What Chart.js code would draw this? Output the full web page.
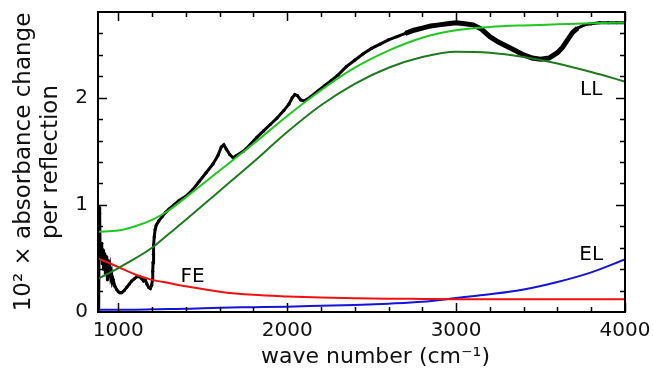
<!DOCTYPE html>
<html>
<head>
<meta charset="utf-8">
<title>Absorbance change per reflection</title>
<script src="https://cdn.jsdelivr.net/npm/chart.js@4.4.1/dist/chart.umd.min.js"></script>
<style>
  html, body { margin: 0; padding: 0; background: #fff; }
  canvas { display: block; }
</style>
</head>
<body>
<canvas id="spectrum" width="653" height="371"></canvas>
<script>
// measured spectrum (wave number in cm-1, 10^2 x absorbance change)
const measWave = [
  884, 887, 890, 892, 895, 898, 900, 903, 906, 910, 913, 916, 920, 924, 928, 932, 936, 940, 945, 950,
  955, 960, 965, 970, 980, 990, 1000, 1010, 1020, 1035, 1050, 1065, 1080, 1095, 1110, 1125, 1140, 1150,
  1160, 1170, 1180, 1190, 1198, 1202, 1204, 1206, 1208, 1210, 1213, 1218, 1225, 1240, 1260, 1280, 1300,
  1330, 1360, 1400, 1440, 1480, 1520, 1560, 1590, 1610, 1625, 1640, 1660, 1680, 1700, 1740, 1780, 1820,
  1860, 1900, 1940, 1980, 2010, 2030, 2045, 2060, 2080, 2100, 2140, 2180, 2220, 2260, 2300, 2350, 2400,
  2450, 2500, 2550, 2600, 2650, 2700, 2750, 2800, 2850, 2900, 2950, 3000, 3050, 3100, 3150, 3200, 3250,
  3300, 3350, 3400, 3450, 3500, 3550, 3600, 3630, 3660, 3690, 3720, 3760, 3800, 3850, 3900, 3950, 4000
];
const measAbs = [
  0.00, 0.98, 0.92, 0.62, 0.55, 0.60, 0.50, 0.64, 0.45, 0.58, 0.40, 0.55, 0.47, 0.36, 0.52, 0.42, 0.30, 0.48, 0.38, 0.42,
  0.33, 0.36, 0.28, 0.30, 0.24, 0.21, 0.19, 0.18, 0.18, 0.20, 0.23, 0.26, 0.29, 0.31, 0.33, 0.33, 0.31, 0.29,
  0.30, 0.26, 0.23, 0.22, 0.25, 0.30, 0.38, 0.46, 0.54, 0.62, 0.70, 0.77, 0.81, 0.85, 0.89, 0.93, 0.96,
  1.00, 1.04, 1.08, 1.14, 1.22, 1.30, 1.38, 1.46, 1.54, 1.56, 1.52, 1.47, 1.44, 1.46, 1.50, 1.56, 1.63,
  1.69, 1.75, 1.81, 1.88, 1.94, 2.00, 2.03, 2.02, 1.98, 1.97, 2.01, 2.06, 2.11, 2.16, 2.21, 2.29, 2.35,
  2.41, 2.46, 2.50, 2.54, 2.57, 2.60, 2.63, 2.65, 2.67, 2.68, 2.69, 2.70, 2.69, 2.68, 2.64, 2.57, 2.52,
  2.48, 2.44, 2.40, 2.37, 2.36, 2.37, 2.42, 2.47, 2.54, 2.61, 2.65, 2.68, 2.69, 2.70, 2.70, 2.70, 2.70
];

// fitted contributions, all on the same wave number grid
const fitWave = [880, 1000, 1100, 1200, 1300, 1400, 1600, 1800, 2000, 2200, 2400, 2600, 2800, 3000, 3200, 3400, 3600, 3800, 4000];
const fitTotal = [0.75, 0.76, 0.80, 0.86, 0.95, 1.07, 1.32, 1.57, 1.83, 2.07, 2.28, 2.44, 2.56, 2.63, 2.66, 2.675, 2.685, 2.695, 2.70];
const fitLL = [0.31, 0.41, 0.50, 0.60, 0.73, 0.86, 1.13, 1.40, 1.68, 1.93, 2.13, 2.28, 2.38, 2.43, 2.42, 2.38, 2.32, 2.24, 2.15];
const fitFE = [0.50, 0.42, 0.35, 0.30, 0.27, 0.24, 0.19, 0.16, 0.145, 0.135, 0.128, 0.124, 0.122, 0.12, 0.12, 0.12, 0.12, 0.12, 0.12];
const fitEL = [0.02, 0.02, 0.022, 0.025, 0.028, 0.03, 0.04, 0.045, 0.05, 0.058, 0.066, 0.078, 0.095, 0.13, 0.165, 0.21, 0.28, 0.37, 0.49];

const xMajor = [1000, 2000, 3000, 4000];
const yMajor = [0, 1, 2];

// curve labels: text, wave number, value
const curveLabels = [
  ['FE', 1440, 0.33],
  ['LL', 3800, 2.07],
  ['EL', 3800, 0.53]
];

const xTitle = 'wave number (cm\u207B\u00B9)';
const yTitle = ['10\u00B2 \u00D7 absorbance change', 'per reflection'];

function pairs(xs, ys) {
  return xs.map((v, i) => ({ x: v, y: ys[i] }));
}

function fitSet(label, ys, color, order) {
  return {
    label: label,
    data: pairs(fitWave, ys),
    showLine: true,
    borderColor: color,
    borderWidth: 2,
    pointRadius: 0,
    cubicInterpolationMode: 'monotone',
    order: order
  };
}

const FONT = 'DejaVu Sans';

// frame, inward ticks on every side, curve labels and the x title
const frameTicks = {
  id: 'frameTicks',
  afterDatasetsDraw(chart) {
    const { ctx, chartArea: a, scales: { x, y } } = chart;
    ctx.save();
    ctx.strokeStyle = '#000';
    ctx.lineWidth = 1.5;
    ctx.beginPath();
    for (let v = 1000; v <= 4000; v += 200) {
      const px = Math.round(x.getPixelForValue(v)) + 0.5;
      const len = v % 1000 === 0 ? 9 : 5;
      ctx.moveTo(px, a.bottom); ctx.lineTo(px, a.bottom - len);
      ctx.moveTo(px, a.top); ctx.lineTo(px, a.top + len);
    }
    for (let k = 1; k < 14; k++) {
      const v = k / 5;
      const py = Math.round(y.getPixelForValue(v)) + 0.5;
      const len = k % 5 === 0 ? 9 : 5;
      ctx.moveTo(a.left, py); ctx.lineTo(a.left + len, py);
      ctx.moveTo(a.right, py); ctx.lineTo(a.right - len, py);
    }
    ctx.stroke();
    ctx.lineWidth = 2;
    ctx.strokeRect(a.left, a.top, a.right - a.left, a.bottom - a.top);

    ctx.fillStyle = '#000';
    ctx.font = '20px "' + FONT + '"';
    ctx.textAlign = 'center';
    ctx.textBaseline = 'middle';
    curveLabels.forEach(([t, wv, val]) => {
      ctx.fillText(t, x.getPixelForValue(wv), y.getPixelForValue(val));
    });

    // axis title sits a little right of the axis middle
    ctx.fillStyle = '#111';
    ctx.font = '22px "' + FONT + '"';
    ctx.fillText(xTitle, (a.left + a.right) / 2 + 14, a.bottom + 45);
    ctx.restore();
  }
};

const ctx = document.getElementById('spectrum').getContext('2d');
new Chart(ctx, {
  type: 'scatter',
  data: {
    datasets: [
      fitSet('total', fitTotal, '#1fc81f', 1),
      fitSet('LL', fitLL, '#1e7a1e', 2),
      fitSet('FE', fitFE, '#f01010', 3),
      fitSet('EL', fitEL, '#1414d8', 4),
      {
        label: 'measured',
        data: pairs(measWave, measAbs),
        showLine: true,
        borderColor: '#000',
        backgroundColor: '#000',
        borderWidth: 3,
        segment: {
          borderWidth: c => (c.p0.parsed.x > 2650 && c.p0.parsed.x < 3700 ? 5 : 3)
        },
        pointRadius: 1.6,
        pointBorderWidth: 0,
        order: 5
      }
    ]
  },
  options: {
    responsive: false,
    animation: false,
    layout: { padding: { top: 12, right: 28, left: 0, bottom: 0 } },
    plugins: {
      legend: { display: false },
      tooltip: { enabled: false }
    },
    scales: {
      x: {
        type: 'linear',
        min: 880,
        max: 4000,
        grid: { display: false, drawTicks: false },
        border: { display: false },
        afterBuildTicks: s => { s.ticks = xMajor.map(v => ({ value: v })); },
        afterFit: s => { s.height = 59; s.paddingLeft = 0; s.paddingRight = 0; },
        ticks: {
          color: '#111',
          padding: 7,
          maxRotation: 0,
          callback: v => String(v),
          font: { family: FONT, size: 20 }
        },
        title: { display: false }
      },
      y: {
        type: 'linear',
        min: 0,
        max: 2.8,
        grid: { display: false, drawTicks: false },
        border: { display: false },
        afterBuildTicks: s => { s.ticks = yMajor.map(v => ({ value: v })); },
        afterFit: s => { s.width = 98; s.paddingTop = 0; s.paddingBottom = 0; },
        ticks: {
          color: '#111',
          padding: 10,
          callback: v => String(v),
          font: { family: FONT, size: 20 }
        },
        title: {
          display: true,
          text: yTitle,
          color: '#111',
          padding: { top: 10, bottom: 0 },
          font: { family: FONT, size: 23 },
          lineHeight: 1.52
        }
      }
    }
  },
  plugins: [frameTicks]
});
</script>
</body>
</html>
